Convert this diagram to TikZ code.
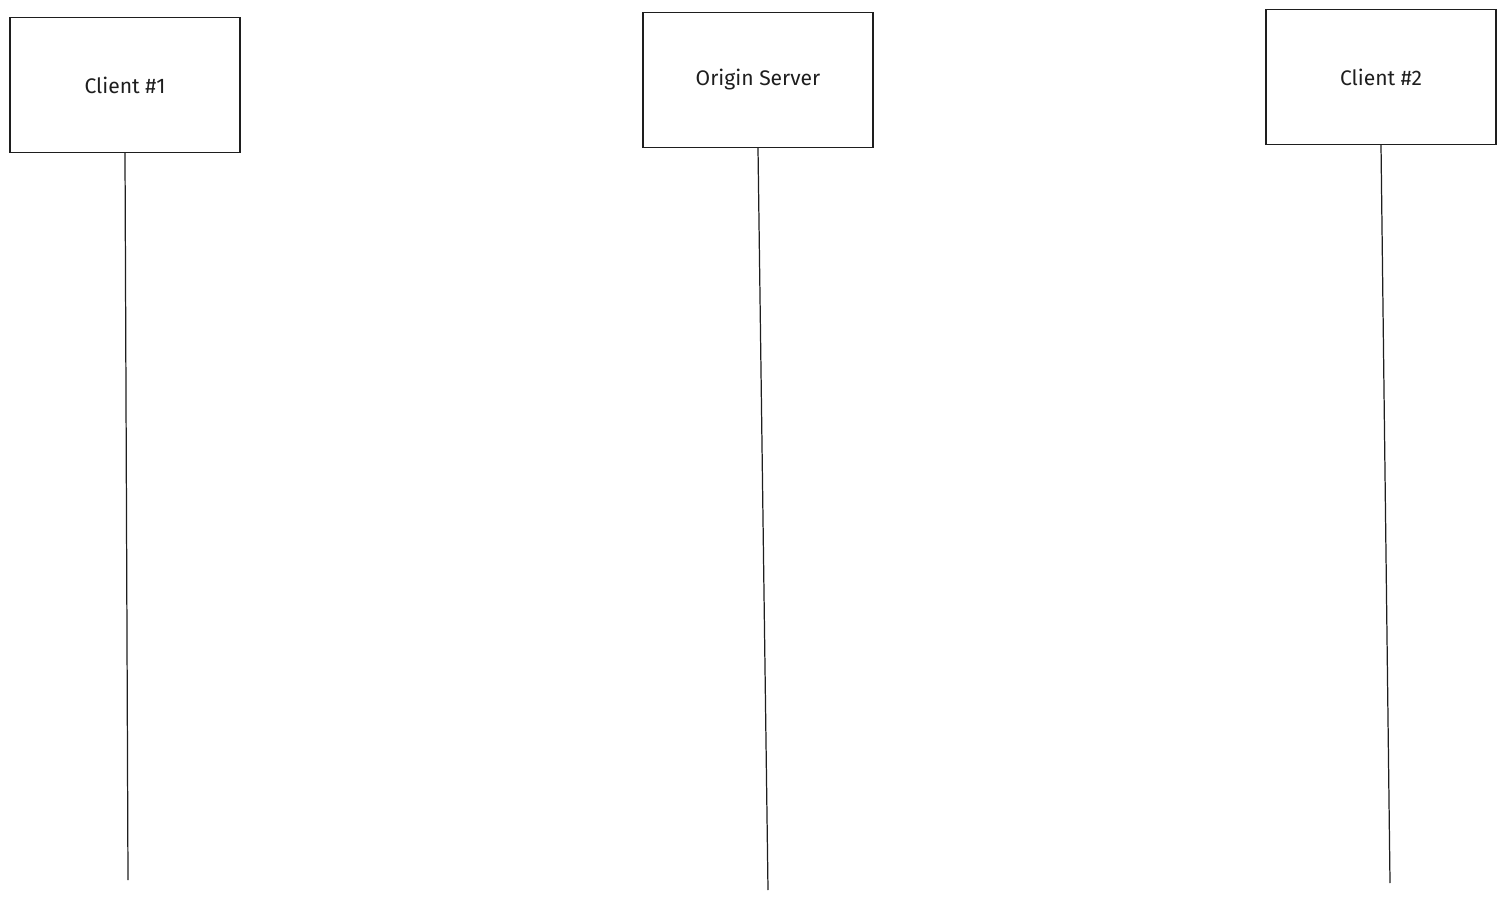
\documentclass[tikz,border=0pt]{standalone}
\usepackage{fontspec}
\setmainfont{Fira Sans}
\usetikzlibrary{positioning}
\definecolor{Ink}{HTML}{1E1E1E}
\tikzset{
  actor/.style={
    rectangle, draw=Ink, fill=white, text=Ink,
    font=\large, align=center,
    minimum width=4.6cm, minimum height=2.7cm,
    line width=0.7pt,
  },
  life/.style={
    line width=0.7pt, color=Ink,
  },
}
\begin{document}
\begin{tikzpicture}[x=0.2mm,y=-0.2mm]
    \useasboundingbox (0,0) rectangle (1506,901);
    \node[actor] (cone) at (125,85)  {Client \#1};
    \node[actor] (orig) at (758,80)  {Origin Server};
    \node[actor] (ctwo) at (1381,77) {Client \#2};
    % ends of the lifelines
    \coordinate (coneend) at (128,880);
    \coordinate (origend) at (768,890);
    \coordinate (ctwoend) at (1390,883);
    \draw[life] (cone.south) -- (coneend);
    \draw[life] (orig.south) -- (origend);
    \draw[life] (ctwo.south) -- (ctwoend);
  \end{tikzpicture}
\end{document}
